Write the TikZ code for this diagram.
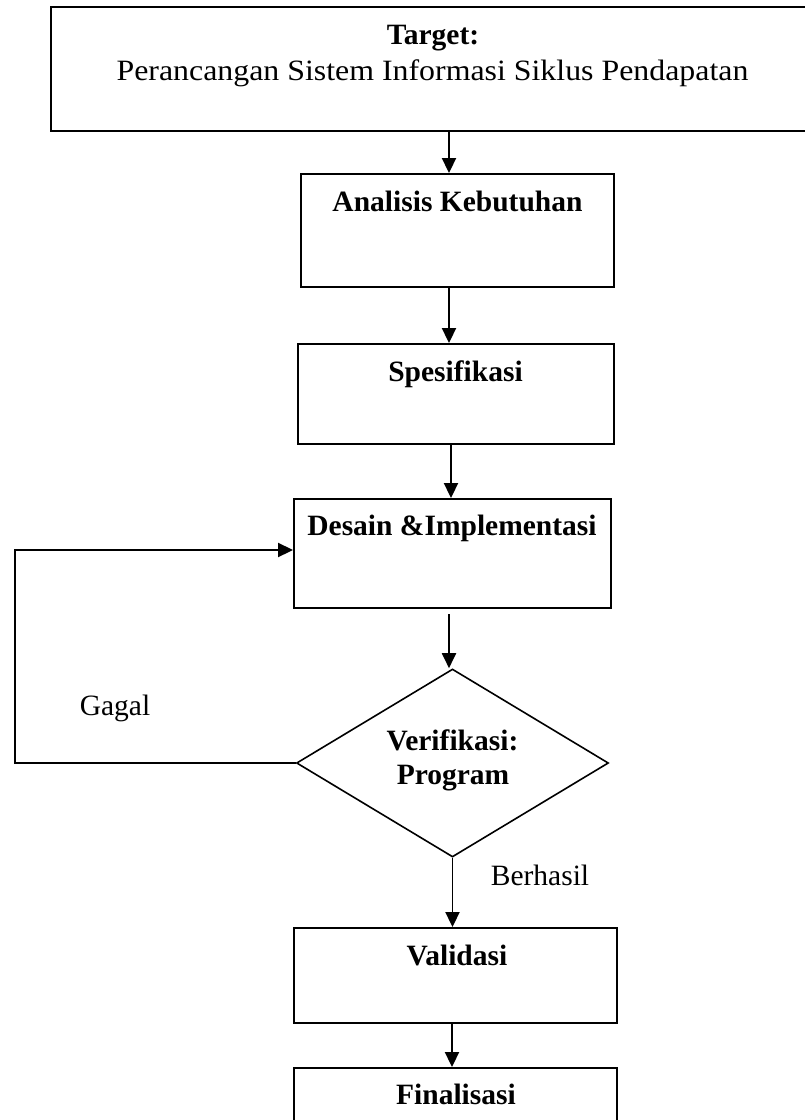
\documentclass[tikz,border=0pt]{standalone}
\usepackage{fontspec}
\setmainfont{Liberation Serif}
\usetikzlibrary{shapes.geometric,arrows.meta}
\tikzset{
  box/.style={draw, line width=1.9pt, rectangle, inner sep=0pt},
  dia/.style={draw, line width=1.6pt, diamond, inner sep=0pt, minimum width=312pt, minimum height=188pt},
  txt/.style={anchor=base, inner sep=0pt, font=\fontsize{29.5}{35}\selectfont},
  btxt/.style={txt, font=\fontsize{29.5}{35}\selectfont\bfseries},
  arr/.style={line width=1.9pt, -{Triangle[length=15pt,width=14pt]}},
  ln/.style={line width=1.9pt}
}
\begin{document}
\begin{tikzpicture}[x=1pt,y=-1pt]
\useasboundingbox (0,0) rectangle (804,1120);
% boxes
\node[box, minimum width=769pt, minimum height=124pt] (top) at (435.5,69) {};
\node[box, minimum width=313pt, minimum height=113pt] (an) at (457.5,230.5) {};
\node[box, minimum width=316pt, minimum height=100pt] (sp) at (456,394) {};
\node[box, minimum width=317pt, minimum height=109pt] (de) at (452.5,553.5) {};
\node[dia] (di) at (452.5,763) {};
\node[box, minimum width=323pt, minimum height=95pt] (va) at (455.5,975.5) {};
\node[box, minimum width=323pt, minimum height=95pt] (fi) at (455.5,1115.5) {};
% texts
\node[btxt] (t1) at (433,44) {Target:};
\node[txt] (t2) at (432.5,80) {\scalebox{1.08}[1]{Perancangan Sistem Informasi Siklus Pendapatan}};
\node[btxt] (t3) at (457.5,211) {Analisis Kebutuhan};
\node[btxt] (t4) at (455.5,381) {Spesifikasi};
\node[btxt] (t5) at (452,535) {Desain \&Implementasi};
\node[btxt] (t6) at (452.5,750) {Verifikasi:};
\node[btxt] (t7) at (453,784) {Program};
\node[txt] (t8) at (115,715) {Gagal};
\node[txt] (t9) at (540,885) {Berhasil};
\node[btxt] (t10) at (457,965) {Validasi};
\node[btxt] (t11) at (456,1104) {Finalisasi};
% connector columns
\coordinate (c1) at (449,0);
\coordinate (c2) at (451,0);
\coordinate (c3) at (452,0);
\coordinate (dstart) at (449,614);
\coordinate (lpb) at (15,763);
\coordinate (lpt) at (15,550);
% connectors
\draw[arr] (top.south -| c1) -- (an.north -| c1);
\draw[arr] (an.south -| c1) -- (sp.north -| c1);
\draw[arr] (sp.south -| c2) -- (de.north -| c2);
\draw[arr] (dstart) -- (di.north -| c1);
\draw[arr] (di.south) -- (va.north -| di.south);
\draw[arr] (va.south -| c3) -- (fi.north -| c3);
\draw[arr, line join=miter] (di.west) -- (lpb) -- (lpt) -- (de.west |- lpt);
\end{tikzpicture}
\end{document}
